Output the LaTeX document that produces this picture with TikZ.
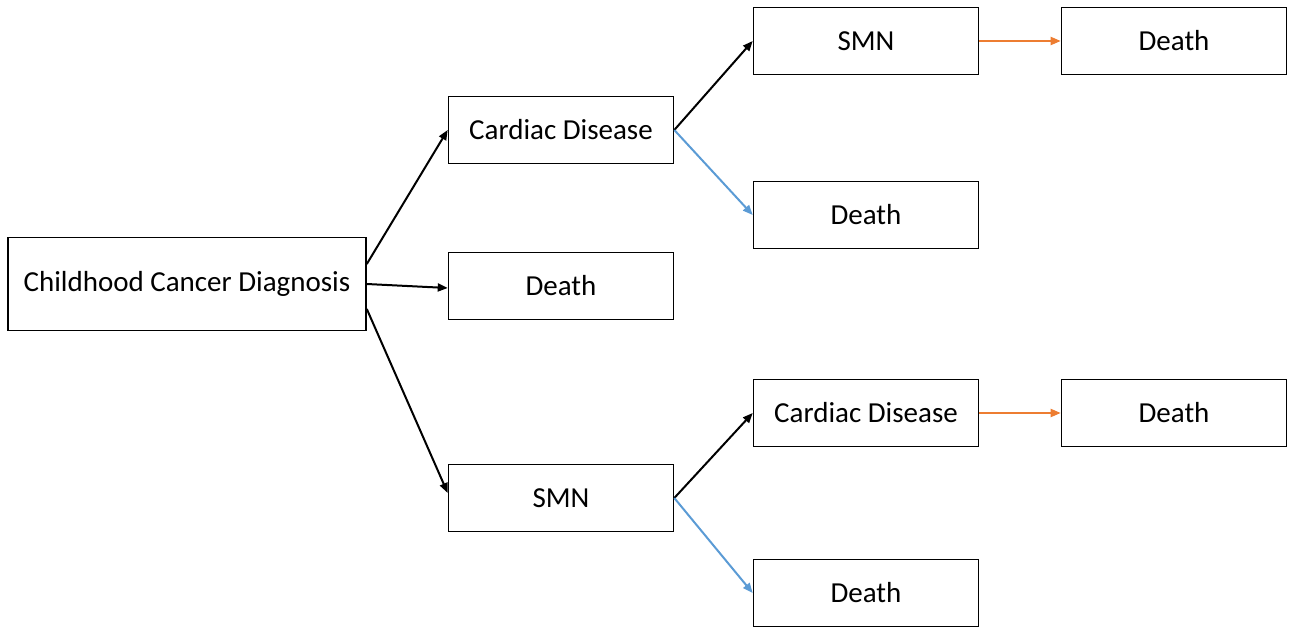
\documentclass[tikz,border=0pt]{standalone}
\usepackage{fontspec}
\setmainfont{Carlito}
\usetikzlibrary{arrows.meta}
\definecolor{branchblue}{RGB}{91,155,213}
\definecolor{branchorange}{RGB}{237,125,49}
\begin{document}
\begin{tikzpicture}[
    x=1pt, y=-1pt,
    box/.style={draw, line width=1.6pt, minimum width=225pt, minimum height=67pt,
      inner sep=0pt, font=\fontsize{29}{34}\selectfont},
    arr/.style={-{Triangle[length=10pt,width=8pt]}, line width=2pt},
    bluearr/.style={arr, draw=branchblue, fill=branchblue},
    orarr/.style={arr, draw=branchorange, fill=branchorange},
  ]
    \useasboundingbox (0,0) rectangle (1292,628);

    \node[box, minimum width=358pt, minimum height=93pt] (ccd) at (187,284) {Childhood Cancer Diagnosis};
    \node[box] (cd1)  at (561,130) {Cardiac Disease};
    \node[box] (d1)   at (561,286) {Death};
    \node[box] (smn1) at (561,498) {SMN};

    \node[box] (smn2) at (866,41)  {SMN};
    \node[box] (d2)   at (866,215) {Death};
    \node[box] (cd2)  at (866,413) {Cardiac Disease};
    \node[box] (d3)   at (866,593) {Death};

    \node[box] (d4) at (1174,41)  {Death};
    \node[box] (d5) at (1174,413) {Death};

    % first branch
    \draw[arr] ([yshift=20pt]ccd.east) -- (cd1.west);
    \draw[arr] (ccd.east) -- ([yshift=-2pt]d1.west);
    \draw[arr] ([yshift=-25pt]ccd.east) -- ([yshift=5pt]smn1.west);

    % second branch
    \draw[arr] (cd1.east) -- (smn2.west);
    \draw[bluearr] (cd1.east) -- (d2.west);
    \draw[arr] (smn1.east) -- (cd2.west);
    \draw[bluearr] (smn1.east) -- (d3.west);

    % third branch
    \draw[orarr] (smn2.east) -- (d4.west);
    \draw[orarr] (cd2.east) -- (d5.west);
\end{tikzpicture}
\end{document}
